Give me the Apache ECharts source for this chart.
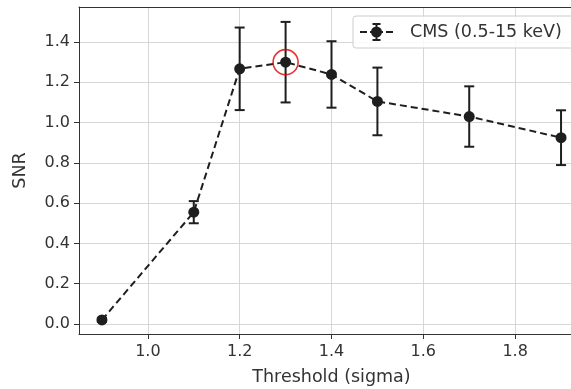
<!DOCTYPE html>
<html>
<head>
<meta charset="utf-8">
<script src="https://cdn.jsdelivr.net/npm/echarts@6/dist/echarts.min.js"></script>
<style>
  html, body { margin: 0; padding: 0; background: #fff; }
  #chart { width: 571px; height: 389px; }
</style>
</head>
<body>
<div id="chart"></div>
<script>
// values
const thresholds = [0.9, 1.1, 1.2, 1.3, 1.4, 1.5, 1.7, 1.9]
const snr = [0.02, 0.555, 1.267, 1.30, 1.239, 1.105, 1.03, 0.925]
const snrErr = [0.01, 0.055, 0.205, 0.2, 0.165, 0.168, 0.15, 0.136]
const xTicks = [1.0, 1.2, 1.4, 1.6, 1.8]
const yTicks = [0.0, 0.2, 0.4, 0.6, 0.8, 1.0, 1.2, 1.4]
const bestPoint = [1.3, 1.30]
const seriesName = 'CMS (0.5-15 keV)'

const font = 'DejaVu Sans'
const ink = '#1e1e1e'
const spine = '#333'
const labelColor = '#333'
const gridColor = '#d6d6d6'

// legend handle: dashes, marker and error bar (33 x 18 box)
const legendIcon = 'path://M0 8H7V10H0Z M26 8H33V10H26Z M10 8H23V10H10Z ' +
  'M15.5 1H17.5V17H15.5Z M12.5 0H20.5V2H12.5Z M12.5 16H20.5V18H12.5Z ' +
  'M22 9A5.5 5.5 0 1 1 11 9A5.5 5.5 0 1 1 22 9Z'

const chart = echarts.init(document.getElementById('chart'), null, { renderer: 'canvas' })

const errData = thresholds.map((t, i) => [t, snr[i] - snrErr[i], snr[i] + snrErr[i]])

const renderErr = (params, api) => {
  const lo = api.coord([api.value(0), api.value(1)])
  const hi = api.coord([api.value(0), api.value(2)])
  const cap = 5
  const style = { stroke: ink, lineWidth: 2 }
  return {
    type: 'group',
    children: [
      { type: 'line', shape: { x1: lo[0], y1: lo[1], x2: hi[0], y2: hi[1] }, style },
      { type: 'line', shape: { x1: lo[0] - cap, y1: lo[1], x2: lo[0] + cap, y2: lo[1] }, style },
      { type: 'line', shape: { x1: hi[0] - cap, y1: hi[1], x2: hi[0] + cap, y2: hi[1] }, style },
    ],
  }
}

const option = {
  animation: false,
  textStyle: { fontFamily: font },
  grid: {
    left: 79, top: 7, bottom: 55, right: -13,
    outerBoundsMode: 'none',
  },
  legend: {
    left: 353, top: 16,
    data: [{ name: seriesName, icon: legendIcon }],
    backgroundColor: 'rgba(255,255,255,0.85)',
    borderColor: '#cccccc', borderWidth: 1, borderRadius: 3,
    padding: [7, 12, 7, 7],
    itemWidth: 33, itemHeight: 18,
    textStyle: { fontFamily: font, fontSize: 17.5, color: labelColor, padding: [0, 0, 0, 12] },
  },
  xAxis: [
    {
      type: 'value',
      min: 0.85, max: 1.95,
      name: 'Threshold (sigma)',
      nameLocation: 'middle', nameGap: 34,
      nameTextStyle: { fontFamily: font, fontSize: 17.5, color: labelColor },
      axisLine: { onZero: false, lineStyle: { color: spine } },
      axisTick: { customValues: xTicks, length: 5, lineStyle: { color: spine } },
      axisLabel: {
        customValues: xTicks, fontSize: 16, color: labelColor, margin: 10,
        formatter: (v) => v.toFixed(1),
      },
      splitLine: { show: true, lineStyle: { color: gridColor, width: 1 } },
    },
    {
      // top spine only
      type: 'value', position: 'top',
      min: 0.85, max: 1.95,
      axisLine: { show: true, onZero: false, lineStyle: { color: spine } },
      axisTick: { show: false },
      axisLabel: { show: false },
      splitLine: { show: false },
    },
  ],
  yAxis: {
    type: 'value',
    min: -0.05, max: 1.574,
    name: 'SNR',
    nameLocation: 'middle', nameGap: 50,
    nameTextStyle: { fontFamily: font, fontSize: 17.5, color: labelColor },
    axisLine: { show: true, onZero: false, lineStyle: { color: spine } },
    axisTick: { show: true, customValues: yTicks, length: 5, lineStyle: { color: spine } },
    axisLabel: {
      customValues: yTicks, fontSize: 16, color: labelColor, margin: 9,
      formatter: (v) => v.toFixed(1),
    },
    splitLine: { show: true, lineStyle: { color: gridColor, width: 1 } },
  },
  series: [
    {
      name: seriesName,
      type: 'line',
      data: thresholds.map((t, i) => [t, snr[i]]),
      symbol: 'circle',
      symbolSize: 11,
      itemStyle: { color: ink },
      lineStyle: { color: ink, width: 2, type: [7, 4] },
      z: 3,
    },
    {
      name: 'err',
      type: 'custom',
      data: errData,
      renderItem: renderErr,
      encode: { x: 0, y: [1, 2] },
      z: 2,
    },
    {
      name: 'best',
      type: 'scatter',
      data: [bestPoint],
      symbol: 'circle',
      symbolSize: 25,
      itemStyle: { color: 'rgba(0,0,0,0)', borderColor: '#e00000', borderWidth: 1.6 },
      z: 4,
    },
  ],
}

chart.setOption(option)
</script>
</body>
</html>
